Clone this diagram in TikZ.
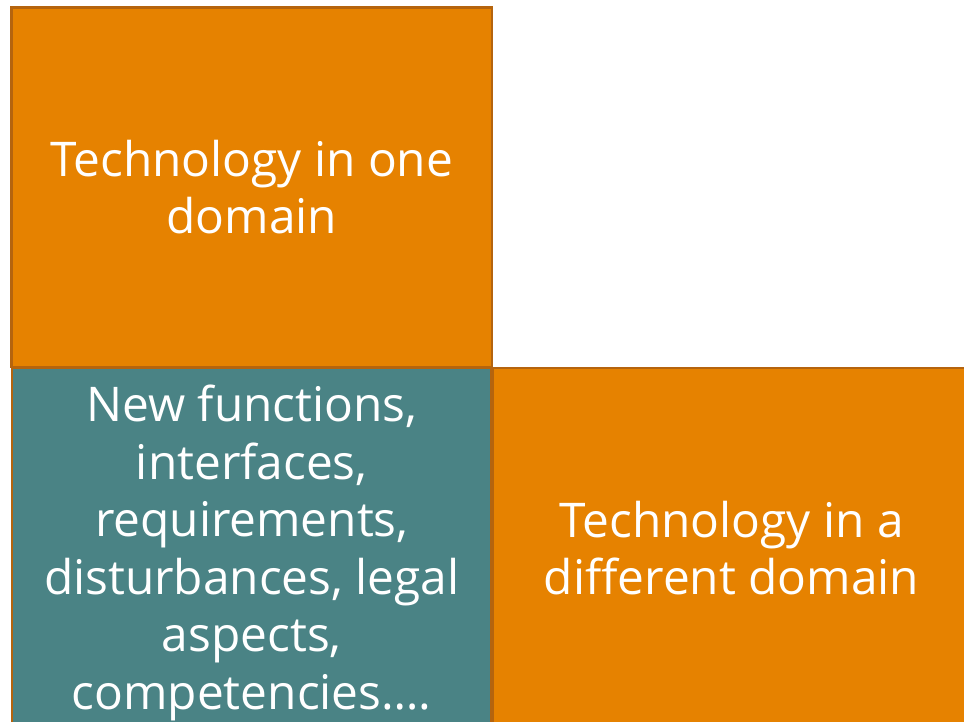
\documentclass[tikz,border=0pt]{standalone}
\usepackage{fontspec}
\setmainfont{Open Sans}
\definecolor{boxorange}{HTML}{E68200}
\definecolor{boxteal}{HTML}{4A8385}
\definecolor{boxedge}{HTML}{B5640E}
\begin{document}
\begin{tikzpicture}[x=1pt,y=1pt,
  cell/.style={draw=boxedge, line width=2.5pt, text=white, align=center,
    inner sep=0pt, font=\fontsize{47.8}{57.5}\selectfont},
  orangecell/.style={cell, fill=boxorange},
  tealcell/.style={cell, fill=boxteal}]
\useasboundingbox (0,0) rectangle (964,-722);
\clip (0,0) rectangle (964,-722);
% lower row
\node[tealcell, minimum width=479.5pt, minimum height=370pt] (impact) at (251.75,-553)
  {New functions,\\interfaces,\\requirements,\\disturbances, legal\\aspects,\\competencies\dots.};
\node[orangecell, minimum width=477pt, minimum height=360pt] (other) at (731.5,-548)
  {Technology in a\\different domain};
% upper row
\node[orangecell, minimum width=480.5pt, minimum height=359.5pt] (one) at (251.75,-187.25)
  {Technology in one\\domain};
\end{tikzpicture}
\end{document}
